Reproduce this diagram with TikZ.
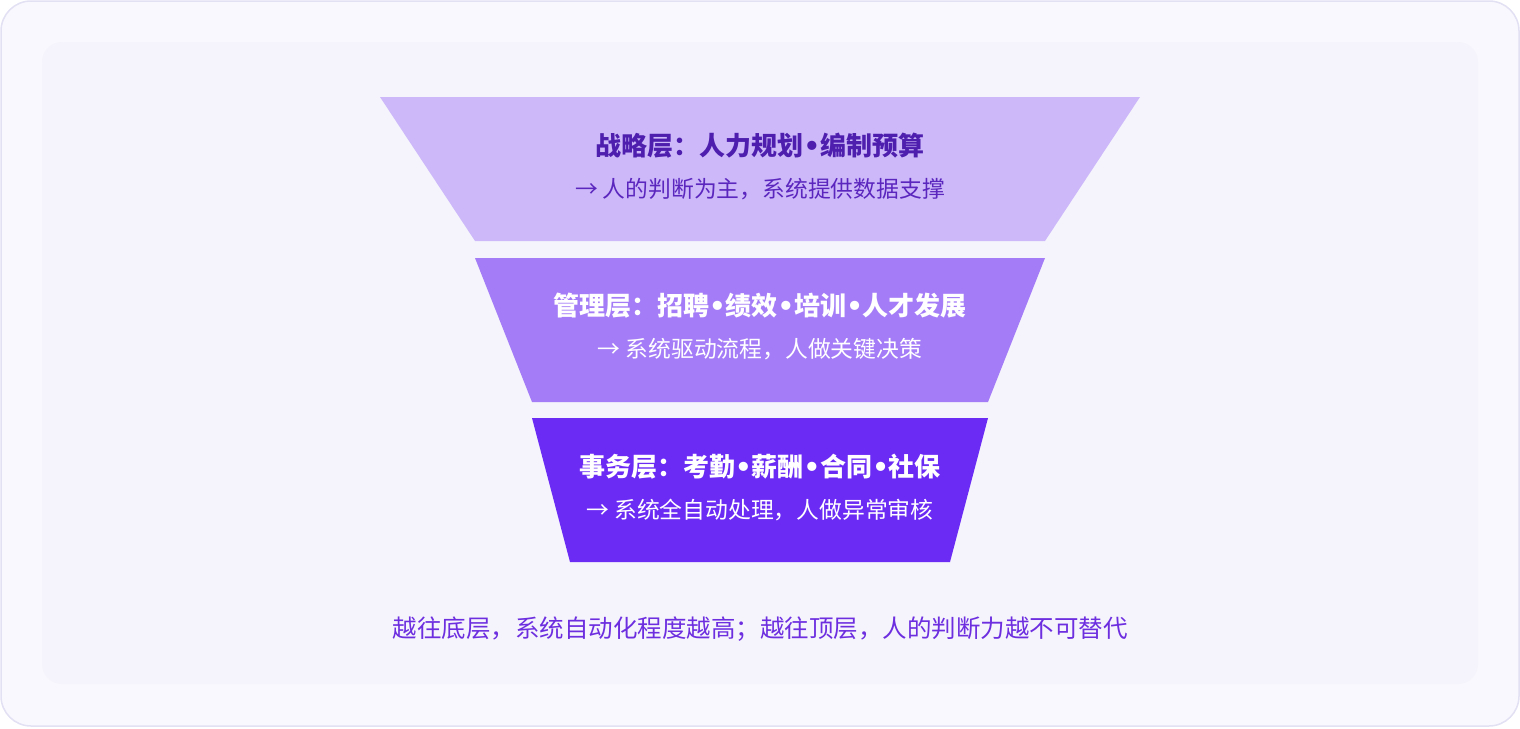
\documentclass[tikz,border=0pt]{standalone}
\usepackage{fontspec}
\setmainfont{Noto Sans CJK SC}
\newfontfamily\latinfont{DejaVu Sans}
\newcommand{\bdot}{{\latinfont\bfseries •}}
\definecolor{outerfill}{HTML}{F9F8FE}
\definecolor{outerline}{HTML}{E2E0F3}
\definecolor{innerfill}{HTML}{F5F4FC}
\definecolor{topfill}{HTML}{CDB9FA}
\definecolor{midfill}{HTML}{A47CF7}
\definecolor{botfill}{HTML}{6B2BF5}
\definecolor{toptitle}{HTML}{4E1FAE}
\definecolor{topsub}{HTML}{5B26BE}
\definecolor{footc}{HTML}{6D2EE0}
\tikzset{
  titletext/.style={font=\fontsize{26}{31}\selectfont\bfseries, anchor=center, inner sep=0pt},
  subtext/.style={font=\fontsize{22.8}{27}\selectfont, anchor=center, inner sep=0pt},
  foottext/.style={font=\fontsize{24.5}{29}\selectfont, anchor=center, inner sep=0pt, text=footc},
}
\begin{document}
\begin{tikzpicture}[x=1pt,y=-1pt]
\useasboundingbox (0,0) rectangle (1520,728);
\draw[fill=outerfill, draw=outerline, line width=1.5pt, rounded corners=30pt] (1,1) rectangle (1519,726);
\fill[innerfill, rounded corners=20pt] (42,42) rectangle (1478,684);
% top layer
\fill[topfill] (380,97) -- (1140,97) -- (1045,241) -- (475,241) -- cycle;
\node[titletext, text=toptitle] (t1) at (760,146) {战略层：人力规划\bdot 编制预算};
\node[subtext, text=topsub] (s1) at (760,189) {→ 人的判断为主，系统提供数据支撑};
% middle layer
\fill[midfill] (475,258) -- (1045,258) -- (988,402) -- (532,402) -- cycle;
\node[titletext, text=white] (t2) at (760,306) {管理层：招聘\bdot 绩效\bdot 培训\bdot 人才发展};
\node[subtext, text=white] (s2) at (760,349) {→ 系统驱动流程，人做关键决策};
% bottom layer
\fill[botfill] (532,418) -- (988,418) -- (950,562) -- (570,562) -- cycle;
\node[titletext, text=white] (t3) at (760,467) {事务层：考勤\bdot 薪酬\bdot 合同\bdot 社保};
\node[subtext, text=white] (s3) at (760,510) {→ 系统全自动处理，人做异常审核};
% footer
\node[foottext] (f) at (760,629) {越往底层，系统自动化程度越高；越往顶层，人的判断力越不可替代};
\end{tikzpicture}
\end{document}
